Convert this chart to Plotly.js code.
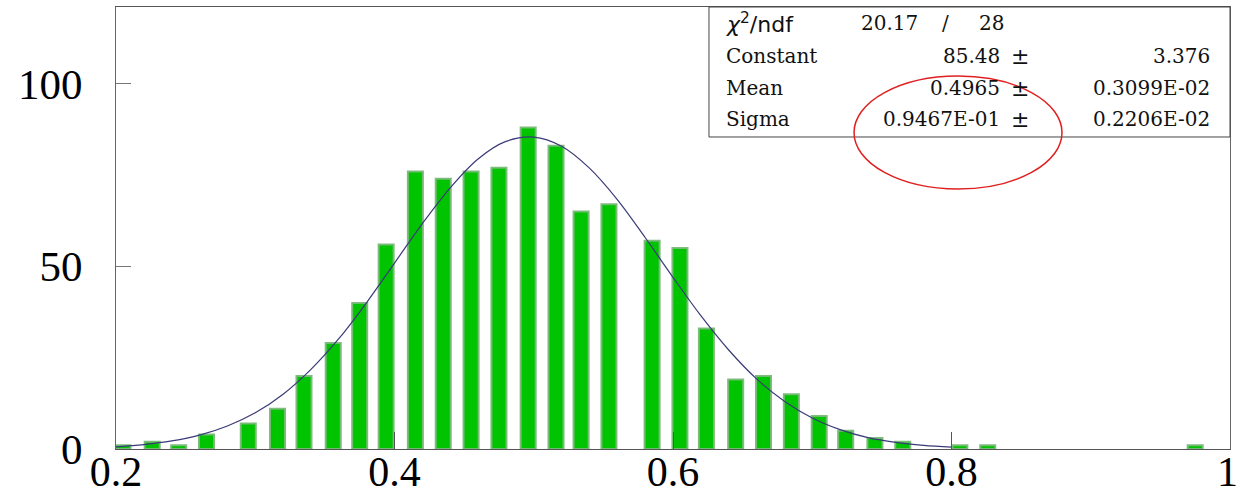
<!DOCTYPE html>
<html>
<head>
<meta charset="utf-8">
<script src="https://cdn.plot.ly/plotly-3.0.1.min.js"></script>
<style>html,body{margin:0;padding:0;background:#fff;}#chart{width:1240px;height:498px;}</style>
</head>
<body>
<div id="chart"></div>
<script>
// Histogram bars (bin centre, entries)
const binCenters = [0.205,0.226,0.245,0.265,0.295,0.316,0.335,0.356,0.375,0.394,
                    0.415,0.435,0.455,0.475,0.496,0.516,0.534,0.554,0.585,0.605,
                    0.624,0.645,0.665,0.685,0.705,0.724,0.745,0.765,0.806,0.826,0.975];
const entries = [1,2,1,4,7,11,20,29,40,56,
                 76,74,76,77,88,83,65,67,57,55,
                 33,19,20,15,9,5,3,2,1,1,1];

// Gaussian fit curve
const fitX = [0.20,0.22,0.24,0.26,0.28,0.30,0.32,0.34,0.36,0.38,0.40,0.42,0.44,0.46,0.48,0.50,
              0.52,0.54,0.56,0.58,0.60,0.62,0.64,0.66,0.68,0.70,0.72,0.74,0.76,0.78,0.80];
const fitY = [0.6,1.2,2.2,3.8,6.3,9.9,15.0,21.8,30.2,40.1,50.9,61.7,71.5,79.4,84.2,85.4,
              82.9,76.9,68.3,57.9,47.0,36.5,27.1,19.2,13.1,8.5,5.3,3.1,1.8,1.0,0.5];

// Axis ticks (the last label "1" sits at the right edge and is placed as an annotation)
const xTickVals = [0.2,0.4,0.6,0.8,1.0];
const xTickText = ['0.2','0.4','0.6','0.8',''];
const xEdgeLabel = '1';
const yTickVals = [0,50,100];
const yTickText = ['0','50','100'];

// Fit statistics box
const statLabels = ['Constant','Mean','Sigma'];
const statValues = ['85.48','0.4965','0.9467E-01'];
const statErrors = ['3.376','0.3099E-02','0.2206E-02'];
const chi2 = '20.17';
const ndf = '28';

const serif = 'DejaVu Serif';
const rowsY = [0.8891,0.8167,0.7466];
const ann = [];
ann.push({text:'<i>χ</i><sup>2</sup>/ndf', x:0.5457, y:0.9638, xanchor:'left', yanchor:'middle',
          font:{family:'DejaVu Sans', size:22, color:'#111'}});
ann.push({text:chi2, x:0.6667, y:0.9638, xanchor:'left', yanchor:'middle', font:{family:serif,size:20,color:'#111'}});
ann.push({text:'/', x:0.7446, y:0.9638, xanchor:'center', yanchor:'middle', font:{family:serif,size:20,color:'#111'}});
ann.push({text:ndf, x:0.7733, y:0.9638, xanchor:'left', yanchor:'middle', font:{family:serif,size:20,color:'#111'}});
statLabels.forEach((lab,i)=>{
  ann.push({text:lab, x:0.5457, y:rowsY[i], xanchor:'left', yanchor:'middle', font:{family:serif,size:20,color:'#111'}});
  ann.push({text:statValues[i], x:0.7957, y:rowsY[i], xanchor:'right', yanchor:'middle', font:{family:serif,size:20,color:'#111'}});
  ann.push({text:'±', x:0.8118, y:rowsY[i], xanchor:'center', yanchor:'middle', font:{family:serif,size:22,color:'#111'}});
  ann.push({text:statErrors[i], x:0.9839, y:rowsY[i], xanchor:'right', yanchor:'middle', font:{family:serif,size:20,color:'#111'}});
});
ann.forEach(a=>{a.xref='paper'; a.yref='paper'; a.showarrow=false;});
ann.push({text:xEdgeLabel, xref:'paper', yref:'paper', x:1.0, xshift:9, y:-0.052,
          xanchor:'right', yanchor:'middle', showarrow:false, borderpad:0,
          font:{family:'Liberation Serif', size:42, color:'#000'}});

const traces = [
  {type:'bar', x:binCenters, y:entries, width:0.0108,
   marker:{color:'#00c400', line:{color:'rgba(120,185,120,0.95)', width:2}},
   hoverinfo:'x+y'},
  {type:'scatter', mode:'lines', x:fitX, y:fitY,
   line:{color:'#3a3a78', width:1.2, shape:'spline'}, hoverinfo:'skip'}
];

const layout = {
  width:1240, height:498,
  margin:{l:116, r:10, t:7, b:49},
  paper_bgcolor:'#fff', plot_bgcolor:'#fff',
  showlegend:false,
  bargap:0,
  xaxis:{range:[0.2,1.0], tickvals:xTickVals, ticktext:xTickText,
         ticks:'inside', ticklen:17, tickcolor:'#555', tickwidth:1,
         showline:true, linecolor:'#555', linewidth:1, mirror:true,
         showgrid:false, zeroline:false, ticklabelstandoff:-14,
         tickfont:{family:'Liberation Serif', size:42, color:'#000'}},
  yaxis:{range:[0,121.0], tickvals:yTickVals, ticktext:yTickText,
         ticks:'inside', ticklen:15, tickcolor:'#777', tickwidth:1,
         showline:true, linecolor:'#666', linewidth:1, mirror:true,
         showgrid:false, zeroline:false, ticklabelstandoff:24,
         tickfont:{family:'Liberation Serif', size:43, color:'#000'}},
  shapes:[
    {type:'rect', xref:'paper', yref:'paper', x0:0.5323, x1:1.0, y0:0.7059, y1:1.0,
     fillcolor:'#fff', line:{color:'#444', width:1}, layer:'above'},
    {type:'circle', xref:'paper', yref:'paper', x0:0.6625, x1:0.8492, y0:0.5882, y1:0.8439,
     line:{color:'#e02020', width:1.5}, layer:'above'}
  ],
  annotations:ann
};

Plotly.newPlot('chart', traces, layout, {displayModeBar:false, staticPlot:true});
</script>
</body>
</html>
